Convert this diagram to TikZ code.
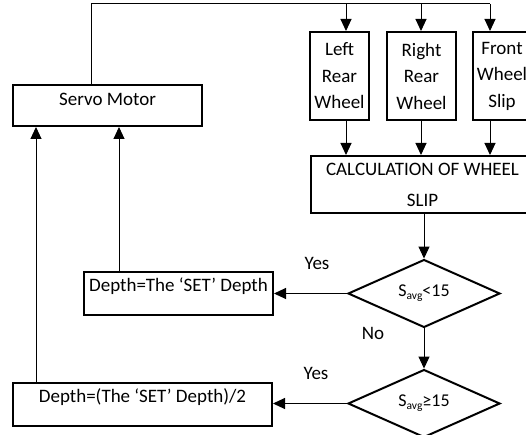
\documentclass[tikz,border=0pt]{standalone}
\usepackage{fontspec}
\setmainfont{Carlito}
\usetikzlibrary{arrows.meta,shapes.geometric}
\begin{document}
\begin{tikzpicture}[x=1pt,y=-1pt,
  box/.style={draw,line width=2pt,inner sep=0pt,font=\fontsize{19}{23}\selectfont},
  arr/.style={line width=1pt,-{Triangle[length=12pt,width=11pt]}},
  ln/.style={line width=1pt},
  dia/.style={draw,diamond,line width=2pt,inner sep=0pt,minimum width=152pt,minimum height=59pt,font=\fontsize{18}{22}\selectfont},
  lbl/.style={font=\fontsize{19}{23}\selectfont,inner sep=0pt}]
\useasboundingbox (0,0) rectangle (526,435);
% boxes
\node[box,anchor=north west,minimum width=189pt,text height=21pt,text depth=20pt] (sv) at (12,84) {Servo Motor};
\node[box,anchor=north west,minimum width=59pt,minimum height=88pt,align=center,font=\fontsize{19}{26.5}\selectfont] (lr) at (309,31) {Left\\Rear\\Wheel};
\node[box,anchor=north west,minimum width=69pt,minimum height=88pt,align=center,font=\fontsize{19}{26.5}\selectfont] (rr) at (386,31) {Right\\Rear\\Wheel};
\node[box,anchor=north west,minimum width=58pt,minimum height=88pt,align=center,font=\fontsize{19}{26.5}\selectfont] (fw) at (472,31) {Front\\Wheel\\Slip};
\node[box,anchor=north west,minimum width=223pt,minimum height=57pt,align=center,font=\fontsize{19}{31}\selectfont] (calc) at (310,155) {CALCULATION OF WHEEL\\SLIP};
\node[dia] (d1) at (424,293.5) {S\raisebox{-0.35ex}{\fontsize{11.5}{12}\selectfont avg}<15};
\node[dia] (d2) at (424,403.5) {S\raisebox{-0.35ex}{\fontsize{11.5}{12}\selectfont avg}≥15};
\node[box,anchor=north west,minimum width=189pt,text height=19pt,text depth=24pt] (b1) at (83,271) {Depth=The ‘SET’ Depth};
\node[box,anchor=north west,minimum width=259pt,text height=19pt,text depth=24pt] (b2) at (12,382) {Depth=(The ‘SET’ Depth)/2};
% labels
\node[lbl] (y1) at (317,263) {Yes};
\node[lbl] (y2) at (316,373) {Yes};
\node[lbl] (no) at (373,333) {No};
% coordinates
\coordinate (tl) at (91,4);
\coordinate (ta) at (346,4);
\coordinate (tb) at (421,4);
\coordinate (tr) at (490,4);
\coordinate (la) at (36,0);
\coordinate (lb) at (119,0);
% connectors
\draw[ln] (sv.north -| tl) -- (tl) -- (tr);
\draw[arr] (ta) -- (lr.north -| ta);
\draw[arr] (tb) -- (rr.north -| tb);
\draw[arr] (tr) -- (fw.north -| tr);
\draw[arr] (lr.south -| ta) -- (calc.north -| ta);
\draw[arr] (rr.south -| tb) -- (calc.north -| tb);
\draw[arr] (fw.south -| tr) -- (calc.north -| tr);
\draw[arr] (calc.south -| d1) -- (d1.north);
\draw[arr] (d1.west) -- (d1.west -| b1.east);
\draw[arr] (d1.south) -- (d2.north);
\draw[arr] (d2.west) -- (d2.west -| b2.east);
\draw[arr] (b2.north -| la) -- (sv.south -| la);
\draw[arr] (b1.north -| lb) -- (sv.south -| lb);
\end{tikzpicture}
\end{document}
